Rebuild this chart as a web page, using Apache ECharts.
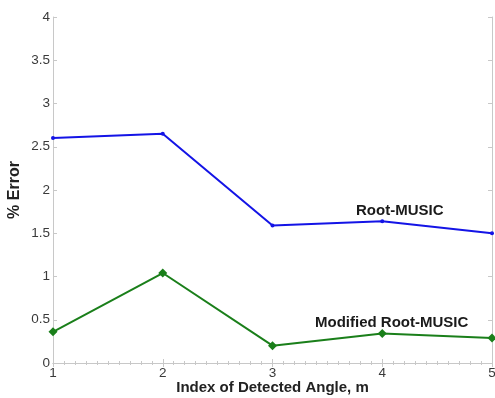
<!DOCTYPE html>
<html>
<head>
<meta charset="utf-8">
<script src="https://cdn.jsdelivr.net/npm/echarts@6/dist/echarts.min.js"></script>
<style>html,body{margin:0;padding:0;background:#fff;}#c{width:495px;height:398px;}</style>
</head>
<body>
<div id="c"></div>
<script>
const indices = [1, 2, 3, 4, 5];
const rootMusic = [2.60, 2.65, 1.59, 1.64, 1.50];
const modifiedRootMusic = [0.36, 1.04, 0.20, 0.34, 0.29];
const seriesNames = ['Root-MUSIC', 'Modified Root-MUSIC'];
const xTitle = 'Index of Detected Angle, m';
const yTitle = '% Error';

const font = 'Liberation Sans, Arial, sans-serif';
const chart = echarts.init(document.getElementById('c'));
const frame = '#c8c8c8';
const labelStyle = {color: '#3a3a3a', fontFamily: font, fontSize: 13.5};

chart.setOption({
  animation: false,
  backgroundColor: '#fff',
  grid: {left: 53, right: 3, top: 17, bottom: 35, containLabel: false, outerBoundsMode: 'none'},
  xAxis: [{
    type: 'value', min: 1, max: 5, interval: 1,
    name: xTitle, nameLocation: 'middle', nameGap: 17, nameMoveOverlap: false,
    nameTextStyle: {fontFamily: font, fontSize: 15, fontWeight: 'bold', color: '#222'},
    axisLine: {show: true, lineStyle: {color: frame}},
    axisTick: {show: true, inside: true, length: 4, lineStyle: {color: frame}},
    minorTick: {show: true, splitNumber: 10, length: 2, lineStyle: {color: frame}},
    axisLabel: Object.assign({margin: 3}, labelStyle),
    splitLine: {show: false}
  }, {
    type: 'value', min: 1, max: 5, interval: 1, position: 'top',
    axisLine: {show: true, lineStyle: {color: frame}},
    axisTick: {show: true, inside: true, length: 4, lineStyle: {color: frame}},
    minorTick: {show: true, splitNumber: 10, length: 2, lineStyle: {color: frame}},
    axisLabel: {show: false}, splitLine: {show: false}
  }],
  yAxis: [{
    type: 'value', min: 0, max: 4, interval: 0.5,
    name: yTitle, nameLocation: 'middle', nameGap: 30, nameRotate: 90, nameMoveOverlap: false,
    nameTextStyle: {fontFamily: font, fontSize: 16, fontWeight: 'bold', color: '#222'},
    axisLine: {show: true, lineStyle: {color: frame}},
    axisTick: {show: true, inside: true, length: 4, lineStyle: {color: frame}},
    axisLabel: Object.assign({margin: 3}, labelStyle),
    splitLine: {show: false}
  }, {
    type: 'value', min: 0, max: 4, interval: 0.5, position: 'right',
    axisLine: {show: true, lineStyle: {color: frame}},
    axisTick: {show: true, inside: true, length: 4, lineStyle: {color: frame}},
    axisLabel: {show: false}, splitLine: {show: false}
  }],
  series: [{
    name: seriesNames[0], type: 'line',
    data: indices.map((x, i) => [x, rootMusic[i]]),
    symbol: 'circle', symbolSize: 4,
    lineStyle: {color: '#1414e6', width: 2},
    itemStyle: {color: '#1414e6'}
  }, {
    name: seriesNames[1], type: 'line',
    data: indices.map((x, i) => [x, modifiedRootMusic[i]]),
    symbol: 'diamond', symbolSize: 9,
    lineStyle: {color: '#1a7f1a', width: 2},
    itemStyle: {color: '#1a7f1a'}
  }],
  graphic: [{
    type: 'text', left: 356, top: 203,
    style: {text: seriesNames[0], font: 'bold 15px ' + font, fill: '#1a1a1a'}
  }, {
    type: 'text', left: 315, top: 315,
    style: {text: seriesNames[1], font: 'bold 15px ' + font, fill: '#1a1a1a'}
  }]
});
</script>
</body>
</html>
